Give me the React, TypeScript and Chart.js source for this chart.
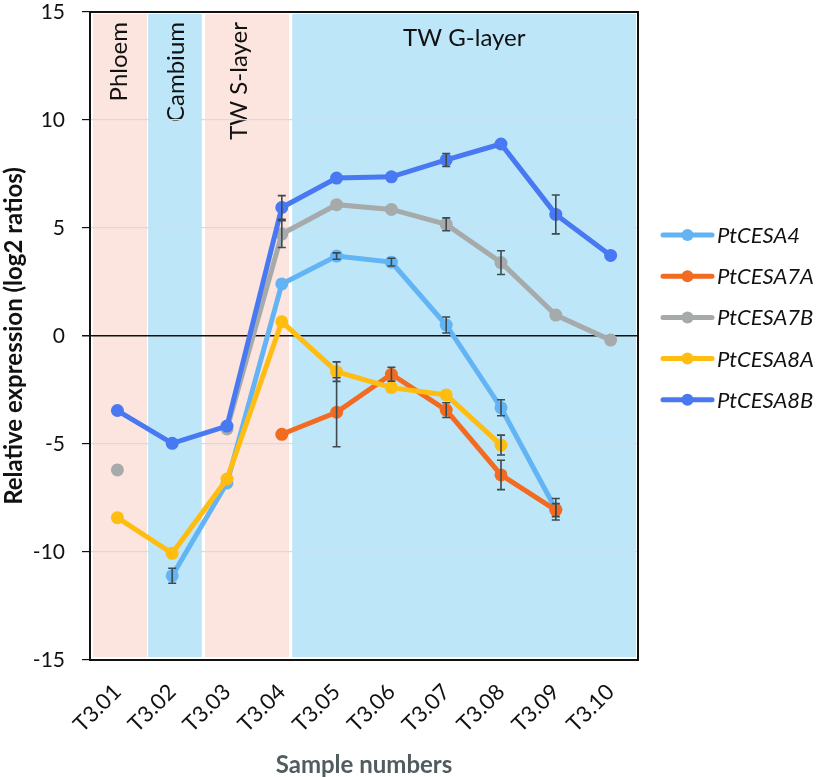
import React, { useEffect, useRef } from "react";
import { Chart, registerables } from "chart.js";

Chart.register(...registerables);

const categories = ["T3.01", "T3.02", "T3.03", "T3.04", "T3.05", "T3.06", "T3.07", "T3.08", "T3.09", "T3.10"];
const seriesNames = ["PtCESA4", "PtCESA7A", "PtCESA7B", "PtCESA8A", "PtCESA8B"];
const seriesColors = ["#62B4F4", "#F26B21", "#A7AAAA", "#FFBD12", "#4878F2"];

const cesa4 = [null, -11.1, -6.8, 2.41, 3.7, 3.42, 0.51, -3.32, -8.02, null];
const cesa7A = [null, null, null, -4.55, -3.53, -1.77, -3.43, -6.43, -8.06, null];
const cesa7B = [-6.2, null, -4.3, 4.72, 6.08, 5.86, 5.17, 3.4, 0.97, -0.19];
const cesa8A = [-8.41, -10.06, -6.62, 0.66, -1.65, -2.39, -2.73, -5.05, null, null];
const cesa8B = [-3.45, -4.97, -4.17, 5.95, 7.31, 7.37, 8.15, 8.89, 5.63, 3.73];

const err4 = [null, 0.35, null, null, 0.15, 0.18, 0.37, 0.37, 0.5, null];
const err7A = [null, null, null, null, 1.6, 0.32, 0.34, 0.68, 0.3, null];
const err7B = [null, null, null, 0.62, null, null, 0.3, 0.55, null, null];
const err8A = [null, null, null, null, 0.45, null, null, 0.46, null, null];
const err8B = [null, null, null, 0.55, null, null, 0.3, null, 0.9, null];

const yTicks = [-15, -10, -5, 0, 5, 10, 15];

const bandNames = ["Phloem", "Cambium", "TW S-layer", "TW G-layer"];
const bandStart = [-0.5, 0.56, 1.6, 3.19];
const bandEnd = [0.54, 1.54, 3.13, 9.5];
const bandColors = ["#FCE4DF", "#BEE6F9", "#FCE4DF", "#BEE6F9"];
const bandLabelPos = [0.03, 1.07, 2.22, 6.33];
const bandLabelVertical = [true, true, true, false];

const seriesValues = [cesa4, cesa7A, cesa7B, cesa8A, cesa8B];
const seriesErrors = [err4, err7A, err7B, err8A, err8B];

const FONT = "Lato, 'Open Sans', sans-serif";

const bandsPlugin = {
  id: "bands",
  beforeDraw(chart: any) {
    const { ctx, chartArea, scales } = chart;
    const x = scales.x;
    ctx.save();
    for (let i = 0; i < bandNames.length; i++) {
      let x0 = x.getPixelForValue(bandStart[i]);
      let x1 = x.getPixelForValue(bandEnd[i]);
      if (i === 0) x0 += 3;
      if (i === bandNames.length - 1) x1 -= 2;
      ctx.fillStyle = bandColors[i];
      ctx.fillRect(x0, chartArea.top + 2, x1 - x0, chartArea.bottom - chartArea.top - 5);
    }
    ctx.fillStyle = "#111";
    ctx.font = `24px ${FONT}`;
    for (let i = 0; i < bandNames.length; i++) {
      const px = x.getPixelForValue(bandLabelPos[i]);
      if (bandLabelVertical[i]) {
        ctx.save();
        ctx.translate(px, chartArea.top + 10);
        ctx.rotate(-Math.PI / 2);
        ctx.textAlign = "right";
        ctx.textBaseline = "middle";
        ctx.fillText(bandNames[i], 0, 0);
        ctx.restore();
      } else {
        ctx.textAlign = "center";
        ctx.textBaseline = "middle";
        ctx.fillText(bandNames[i], px, chartArea.top + 26);
      }
    }
    ctx.restore();
  },
};

const overlayPlugin = {
  id: "overlay",
  afterDatasetsDraw(chart: any) {
    const { ctx, chartArea, scales } = chart;
    const x = scales.x;
    const y = scales.y;
    ctx.save();
    // error bars
    ctx.strokeStyle = "#3E4A4E";
    ctx.lineWidth = 1.6;
    for (let s = 0; s < seriesValues.length; s++) {
      const vals = seriesValues[s];
      const errs = seriesErrors[s];
      for (let i = 0; i < categories.length; i++) {
        const v = vals[i];
        const e = errs[i];
        if (v === null || e === null) continue;
        const px = x.getPixelForValue(i);
        const yt = y.getPixelForValue(v + e);
        const yb = y.getPixelForValue(v - e);
        ctx.beginPath();
        ctx.moveTo(px, yt);
        ctx.lineTo(px, yb);
        ctx.moveTo(px - 4, yt);
        ctx.lineTo(px + 4, yt);
        ctx.moveTo(px - 4, yb);
        ctx.lineTo(px + 4, yb);
        ctx.stroke();
      }
    }
    // plot border (top/right)
    ctx.strokeStyle = "#111";
    ctx.lineWidth = 2;
    ctx.beginPath();
    ctx.moveTo(chartArea.left, chartArea.top);
    ctx.lineTo(chartArea.right, chartArea.top);
    ctx.lineTo(chartArea.right, chartArea.bottom);
    ctx.stroke();
    // legend
    const lx0 = chartArea.right + 25;
    const lx1 = chartArea.right + 74;
    const top = 235;
    const step = 41.2;
    ctx.font = `italic 22px ${FONT}`;
    ctx.textAlign = "left";
    ctx.textBaseline = "middle";
    for (let s = 0; s < seriesNames.length; s++) {
      const ly = top + s * step;
      ctx.strokeStyle = seriesColors[s];
      ctx.lineWidth = 5;
      ctx.lineCap = "round";
      ctx.beginPath();
      ctx.moveTo(lx0, ly);
      ctx.lineTo(lx1, ly);
      ctx.stroke();
      ctx.fillStyle = seriesColors[s];
      ctx.beginPath();
      ctx.arc((lx0 + lx1) / 2, ly, 6, 0, Math.PI * 2);
      ctx.fill();
      ctx.fillStyle = "#111";
      ctx.fillText(seriesNames[s], lx1 + 5, ly + 1);
    }
    ctx.restore();
  },
};

export default function App() {
  const canvasRef = useRef<HTMLCanvasElement | null>(null);

  useEffect(() => {
    if (!canvasRef.current) return;
    const datasets = seriesNames.map((name, s) => ({
      label: name,
      data: seriesValues[s],
      borderColor: seriesColors[s],
      backgroundColor: seriesColors[s],
      pointBackgroundColor: seriesColors[s],
      pointBorderColor: seriesColors[s],
      pointBorderWidth: 0,
      pointRadius: 6.5,
      pointHoverRadius: 6.5,
      borderWidth: 5,
      tension: 0,
      spanGaps: false,
      order: seriesNames.length - s,
    }));
    const chart = new Chart(canvasRef.current, {
      type: "line",
      data: { labels: categories, datasets },
      options: {
        animation: false,
        responsive: true,
        maintainAspectRatio: false,
        devicePixelRatio: 1,
        layout: { padding: { left: 0, top: 12, right: 188, bottom: 0 } },
        plugins: {
          legend: { display: false },
          tooltip: { enabled: false },
        },
        scales: {
          x: {
            type: "category",
            offset: true,
            grid: { display: false, drawTicks: false },
            border: { display: true, color: "#111", width: 2 },
            ticks: {
              color: "#111",
              font: { family: FONT, size: 22 },
              minRotation: 45,
              maxRotation: 45,
              padding: 19,
            },
            title: {
              display: true,
              text: "Sample numbers",
              color: "#505C5E",
              font: { family: FONT, size: 24, weight: "bold", lineHeight: 1 },
              padding: { top: 0, bottom: 0 },
            },
            afterFit(scale: any) {
              scale.height = 117;
              scale.paddingLeft = 0;
              scale.paddingRight = 0;
            },
          },
          y: {
            min: -15,
            max: 15,
            afterBuildTicks(scale: any) {
              scale.ticks = yTicks.map((v) => ({ value: v }));
            },
            grid: {
              color: (ctx: any) => (ctx.tick && ctx.tick.value === 0 ? "#111" : "#DADADA"),
              lineWidth: (ctx: any) => (ctx.tick && ctx.tick.value === 0 ? 1.5 : 1.2),
              tickColor: "#111",
              tickLength: 8,
              drawTicks: true,
            },
            border: { display: true, color: "#111", width: 2 },
            ticks: {
              color: "#111",
              font: { family: FONT, size: 21 },
              padding: 17,
            },
            title: {
              display: true,
              text: "Relative expression (log2 ratios)",
              color: "#111",
              font: { family: FONT, size: 24, weight: "bold" },
              padding: { top: 0, bottom: 0 },
            },
            afterFit(scale: any) {
              scale.width = 90;
              scale.paddingTop = 0;
              scale.paddingBottom = 0;
            },
          },
        },
      },
      plugins: [bandsPlugin, overlayPlugin],
    });
    return () => chart.destroy();
  }, []);

  return (
    <div style={{ position: "absolute", left: 0, top: 0, width: 826, height: 777, background: "#fff" }}>
      <canvas ref={canvasRef} />
    </div>
  );
}
